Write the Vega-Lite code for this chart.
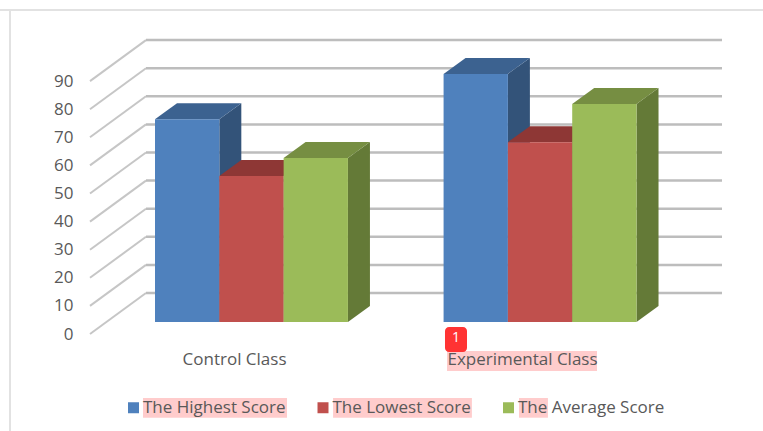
{
"$schema":"https://vega.github.io/schema/vega-lite/v6.json",
"width":632,"height":294,
"autosize":{"type":"none"},
"padding":{"left":90,"top":40,"right":41,"bottom":97},
"background":"white",
"config":{"view":{"stroke":null},"font":"Open Sans"},
"data":{"values":[
{"class":"Control Class","series":"The Highest Score","score":72.2},
{"class":"Control Class","series":"The Lowest Score","score":52},
{"class":"Control Class","series":"The Average Score","score":58.4},
{"class":"Experimental Class","series":"The Highest Score","score":88.3},
{"class":"Experimental Class","series":"The Lowest Score","score":64},
{"class":"Experimental Class","series":"The Average Score","score":77.6}
]},
"transform":[
{"calculate":"(datum.class==='Control Class'?0:1.002)+0.2257+indexof(['The Highest Score','The Lowest Score','The Average Score'],datum.series)*0.2233","as":"left"},
{"calculate":"datum.left+0.2233","as":"right"},
{"calculate":"4.27","as":"base"},
{"calculate":"datum.base+datum.score","as":"top"},
{"calculate":"datum.class+datum.series","as":"key"}
],
"layer":[
{"data":{"values":[{"v":0},{"v":10},{"v":20},{"v":30},{"v":40},{"v":50},{"v":60},{"v":70},{"v":80},{"v":90}]},
 "transform":[{"calculate":"datum.v+14.59","as":"back"},{"calculate":"0","as":"a"},{"calculate":"0.1944","as":"b"}],
 "mark":{"type":"rule","stroke":"#c6c6c6","strokeWidth":2},
 "encoding":{
  "x":{"field":"a","type":"quantitative","scale":{"domain":[0,2.1944],"nice":false,"zero":false},
   "axis":{"title":null,"values":[0.5,1.5],"labelExpr":"datum.value<1?'Control Class':'Experimental Class'","grid":false,"ticks":false,"domain":false,"labelFontSize":17,"labelColor":"#595959","labelPadding":17,"labelOverlap":false,"labelFlush":false,"zindex":1}},
  "x2":{"field":"b"},
  "y":{"field":"v","type":"quantitative","scale":{"domain":[0,104.63],"nice":false,"zero":false},
   "axis":{"title":null,"values":[0,10,20,30,40,50,60,70,80,90],"tickCount":10,"labelExpr":"datum.label","grid":false,"ticks":false,"domain":false,"labelFontSize":17,"labelColor":"#595959","labelPadding":17,"labelOverlap":false,"labelSeparation":0,"labelFlush":false,"zindex":1}},
  "y2":{"field":"back"}}},
{"data":{"values":[{"v":0},{"v":10},{"v":20},{"v":30},{"v":40},{"v":50},{"v":60},{"v":70},{"v":80},{"v":90}]},
 "transform":[{"calculate":"datum.v+14.59","as":"back"},{"calculate":"0.1944","as":"a"},{"calculate":"2.1944","as":"b"}],
 "mark":{"type":"rule","stroke":"#bdbdbd","strokeWidth":2.5},
 "encoding":{"x":{"field":"a","type":"quantitative"},"x2":{"field":"b"},"y":{"field":"back","type":"quantitative"}}},
{"transform":[{"calculate":"[0,1]","as":"t"},{"flatten":["t"]},{"calculate":"datum.right+datum.t*0.0764","as":"sx"},{"calculate":"datum.top+datum.t*5.69","as":"sy"},{"calculate":"datum.base+datum.t*5.69","as":"sy2"}],
 "mark":{"type":"area","orient":"vertical","opacity":1},
 "encoding":{"x":{"field":"sx","type":"quantitative"},"y":{"field":"sy","type":"quantitative"},"y2":{"field":"sy2"},"detail":{"field":"key"},
  "color":{"field":"series","type":"nominal","legend":null,"scale":{"domain":["The Highest Score","The Lowest Score","The Average Score"],"range":["#335379","#7F2F2D","#647A37"]}}}},
{"transform":[{"calculate":"[0,1]","as":"t"},{"flatten":["t"]},{"calculate":"datum.left+datum.t*0.0764","as":"tx"},{"calculate":"datum.right+datum.t*0.0764","as":"tx2"},{"calculate":"datum.top+datum.t*5.69","as":"ty"}],
 "mark":{"type":"area","orient":"horizontal","opacity":1},
 "encoding":{"y":{"field":"ty","type":"quantitative"},"x":{"field":"tx","type":"quantitative"},"x2":{"field":"tx2"},"detail":{"field":"key"},
  "color":{"field":"series","type":"nominal","legend":null,"scale":{"domain":["The Highest Score","The Lowest Score","The Average Score"],"range":["#3C6290","#8E3735","#768E42"]}}}},
{"mark":{"type":"rect","opacity":1},
 "encoding":{"x":{"field":"left","type":"quantitative"},"x2":{"field":"right"},"y":{"field":"top","type":"quantitative"},"y2":{"field":"base"},
  "color":{"field":"series","type":"nominal","scale":{"domain":["The Highest Score","The Lowest Score","The Average Score"],"range":["#4F81BD","#C0504D","#9BBB59"]},
   "legend":{"title":null,"orient":"none","direction":"horizontal","legendX":35,"legendY":359,"symbolType":"square","symbolSize":121,"symbolStrokeWidth":0,"symbolOpacity":1,"labelFontSize":17,"labelColor":"#595959","labelOffset":1,"columnPadding":28.5,"labelLimit":300}}}},
{"data":{"values":[{"note":"frame"}]},"mark":{"type":"rule","stroke":"#e2e2e2","strokeWidth":2},"encoding":{"x":{"datum":-0.2778},"y":{"datum":115.3},"y2":{"datum":-34.5}}},
{"data":{"values":[{"note":"frame"}]},"mark":{"type":"rule","stroke":"#e2e2e2","strokeWidth":2},"encoding":{"x":{"datum":-0.3125},"x2":{"datum":2.337},"y":{"datum":115.3}}},
{"data":{"values":[{"note":"Experimental Class"}]},"mark":{"type":"rect","fill":"#FFCCCC"},"encoding":{"x":{"datum":1.2396},"x2":{"datum":1.7604},"y":{"datum":-6.05},"y2":{"datum":-13.17}}},
{"data":{"values":[{"note":"The Highest Score"}]},"mark":{"type":"rect","fill":"#FFCCCC"},"encoding":{"x":{"datum":0.184},"x2":{"datum":0.684},"y":{"datum":-22.78},"y2":{"datum":-29.79}}},
{"data":{"values":[{"note":"The Lowest Score"}]},"mark":{"type":"rect","fill":"#FFCCCC"},"encoding":{"x":{"datum":0.844},"x2":{"datum":1.326},"y":{"datum":-22.78},"y2":{"datum":-29.79}}},
{"data":{"values":[{"note":"The"}]},"mark":{"type":"rect","fill":"#FFCCCC"},"encoding":{"x":{"datum":1.4896},"x2":{"datum":1.59},"y":{"datum":-22.78},"y2":{"datum":-29.79}}},
{"data":{"values":[{"note":"1"}]},"mark":{"type":"rect","fill":"#FF3333","cornerRadius":4},"encoding":{"x":{"datum":1.2326},"x2":{"datum":1.309},"y":{"datum":2.49},"y2":{"datum":-6.41}}},
{"data":{"values":[{"note":"1"}]},"mark":{"type":"text","color":"white","fontSize":14,"align":"center","baseline":"middle"},"encoding":{"text":{"field":"note"},"x":{"datum":1.2708},"y":{"datum":-1.6}}}
],
"resolve":{"scale":{"color":"independent"}}
}
